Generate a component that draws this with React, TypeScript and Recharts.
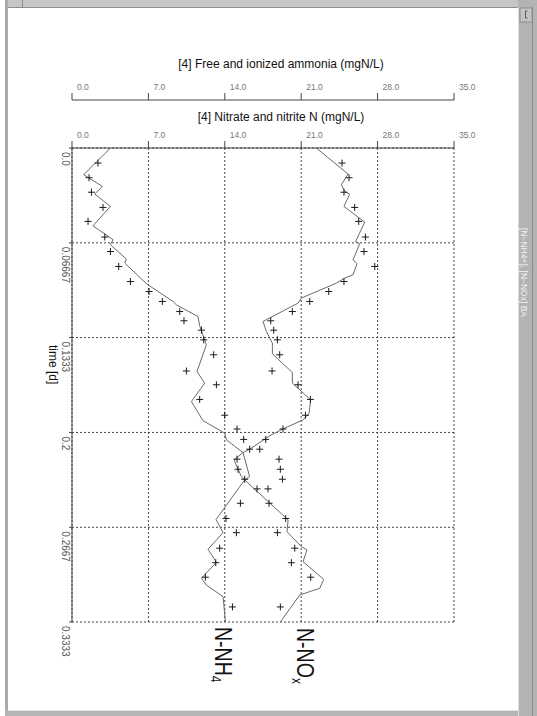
import React from 'react';
import { ScatterChart, Scatter, XAxis, YAxis, CartesianGrid } from 'recharts';

// ─── axes ────────────────────────────────────────────────────────────────────
const timeTicks = [0, 0.06667, 0.1333, 0.2, 0.2667, 0.3333];
const timeTickLabels = ['0.0', '0.06667', '0.1333', '0.2', '0.2667', '0.3333'];
const concTicks = [0, 7, 14, 21, 28, 35];

// ─── simulated curves ────────────────────────────────────────────────────────
const nh4ModelTime = [
  0, 0.0188, 0.027, 0.0324, 0.0411, 0.0547, 0.0645, 0.068, 0.0781, 0.0809, 0.0898, 0.0957,
  0.1079, 0.1103, 0.1185, 0.125, 0.1384, 0.1572, 0.1653, 0.1783, 0.1917, 0.2005, 0.2052,
  0.2142, 0.2311, 0.2334, 0.2612, 0.2705, 0.2821, 0.2913, 0.3025, 0.3073, 0.3155, 0.3333,
];
const nh4ModelValue = [
  3.52, 1.07, 2.79, 2.08, 3.52, 1.92, 3.76, 3.52, 4.98, 4.83, 6.05, 6.87, 9.25, 9.57, 11.54,
  11.7, 12.31, 11.45, 12.16, 10.94, 12.0, 13.99, 14.15, 15.67, 16.28, 15.82, 13.2, 13.84, 12.46,
  13.23, 11.86, 12.31, 13.84, 14.06,
];
const noxModelTime = [
  0, 0.0183, 0.0258, 0.0305, 0.0324, 0.0411, 0.0521, 0.0657, 0.0673, 0.0786, 0.0814, 0.0891,
  0.0915, 0.095, 0.1055, 0.1091, 0.122, 0.129, 0.1372, 0.1447, 0.1579, 0.1653, 0.1771, 0.1865,
  0.1912, 0.1975, 0.2024, 0.2118, 0.2142, 0.2193, 0.2311, 0.2334, 0.2615, 0.2698, 0.2803,
  0.2826, 0.2909, 0.3033, 0.3096, 0.3143, 0.3333,
];
const noxModelValue = [
  22.39, 25.29, 24.68, 24.99, 25.44, 24.92, 26.82, 25.99, 26.36, 25.75, 26.11, 25.75, 24.99,
  24.23, 21.02, 20.71, 17.5, 17.81, 18.36, 18.36, 20.19, 20.19, 21.87, 21.72, 21.17, 19.33,
  18.11, 16.28, 15.67, 14.84, 15.52, 15.82, 19.8, 19.7, 21.02, 21.53, 21.17, 23.06, 22.7, 20.86,
  19.09,
];

// ─── measurements ────────────────────────────────────────────────────────────
const sampleTime = [
  0.0106, 0.0209, 0.0311, 0.0418, 0.0516, 0.0626, 0.0728, 0.0833, 0.0939, 0.1009, 0.1079,
  0.115, 0.1215, 0.1281, 0.1349, 0.1454, 0.1568, 0.1665, 0.1768, 0.1879, 0.1976, 0.2049,
  0.2118, 0.2188, 0.2259, 0.2329, 0.2397, 0.2498, 0.2605, 0.2705, 0.2814, 0.2916, 0.3018, 0.3227,
];
const nh4Measured = [
  2.38, 1.56, 1.78, 2.84, 1.47, 3.0, 3.52, 4.28, 5.35, 7.06, 8.28, 9.87, 10.26, 11.86, 12.07,
  12.98, 10.48, 13.23, 11.7, 13.99, 15.12, 15.73, 16.28, 15.12, 15.21, 15.82, 16.95, 15.43,
  14.11, 15.06, 13.53, 13.17, 12.22, 14.7,
];
const noxMeasured = [
  24.74, 25.38, 24.92, 25.9, 26.27, 26.88, 26.75, 27.74, 24.92, 23.52, 21.78, 20.19, 18.21,
  18.48, 18.82, 19.03, 18.33, 20.71, 21.84, 21.39, 19.33, 17.75, 17.2, 18.97, 19.09, 19.28,
  17.96, 18.05, 19.58, 18.82, 20.41, 20.1, 21.87, 19.09,
];

const toPoints = (t: number[], v: number[]) => t.map((time, i) => ({ t: time, v: v[i] }));

const nh4Model = toPoints(nh4ModelTime, nh4ModelValue);
const noxModel = toPoints(noxModelTime, noxModelValue);
const nh4Points = toPoints(sampleTime, nh4Measured);
const noxPoints = toPoints(sampleTime, noxMeasured);

const AXIS = '#444';
const FONT = "'Liberation Sans', Arial, sans-serif";

const NoDot = () => <g />;

const PlusMark = (props: any) => {
  const { cx, cy } = props;
  if (cx == null || cy == null) return <g />;
  return (
    <path
      d={`M${cx - 3.5},${cy}h7M${cx},${cy - 3.5}v7`}
      stroke="#1a1a1a"
      strokeWidth={1}
      fill="none"
    />
  );
};

const ConcTick = (props: any) => {
  const { x, y, payload } = props;
  return (
    <text x={x + 5} y={y - 1} fontSize={8.5} fill="#777" fontFamily={FONT} textAnchor="start">
      {Number(payload.value).toFixed(1)}
    </text>
  );
};

const TimeTick = (props: any) => {
  const { x, y, payload } = props;
  const idx = timeTicks.indexOf(payload.value);
  const label = idx >= 0 ? timeTickLabels[idx] : String(payload.value);
  const bx = x - 5;
  const by = y + 4;
  return (
    <text
      x={bx}
      y={by}
      transform={`rotate(90, ${bx}, ${by})`}
      fontSize={10}
      fill="#555"
      fontFamily={FONT}
      textAnchor="start"
    >
      {label}
    </text>
  );
};

const W = 537;
const H = 716;

const App: React.FC = () => {
  return (
    <div style={{ position: 'absolute', left: 0, top: 0, width: W, height: H, background: '#fff' }}>
      <div style={{ position: 'absolute', left: 0, top: 0 }}>
        <ScatterChart width={W} height={H} margin={{ top: 50, right: 83, bottom: 94, left: 42 }}>
          <CartesianGrid
            xAxisId="nox"
            yAxisId="time"
            stroke={AXIS}
            strokeDasharray="2 2"
            horizontalValues={timeTicks}
            verticalValues={concTicks}
          />
          <XAxis
            xAxisId="nox"
            type="number"
            dataKey="v"
            orientation="top"
            domain={[0, 35]}
            ticks={concTicks}
            height={50}
            tickSize={7}
            tickMargin={2}
            axisLine={{ stroke: AXIS }}
            tickLine={{ stroke: AXIS }}
            tick={<ConcTick />}
            interval={0}
          />
          <XAxis
            xAxisId="nh4"
            type="number"
            dataKey="v"
            orientation="top"
            domain={[0, 35]}
            ticks={concTicks}
            height={48}
            tickSize={7}
            tickMargin={2}
            axisLine={{ stroke: AXIS }}
            tickLine={{ stroke: AXIS }}
            tick={<ConcTick />}
            interval={0}
          />
          <YAxis
            yAxisId="time"
            type="number"
            dataKey="t"
            domain={[0, 0.3333]}
            ticks={timeTicks}
            reversed
            width={30}
            tickSize={3}
            tickMargin={2}
            axisLine={{ stroke: AXIS }}
            tickLine={{ stroke: AXIS }}
            tick={<TimeTick />}
            interval={0}
          />
          <Scatter
            name="N-NH4 model"
            data={nh4Model}
            xAxisId="nh4"
            yAxisId="time"
            line={{ stroke: '#6a6a6a', strokeWidth: 1 }}
            shape={<NoDot />}
            isAnimationActive={false}
          />
          <Scatter
            name="N-NOx model"
            data={noxModel}
            xAxisId="nox"
            yAxisId="time"
            line={{ stroke: '#6a6a6a', strokeWidth: 1 }}
            shape={<NoDot />}
            isAnimationActive={false}
          />
          <Scatter
            name="N-NH4"
            data={nh4Points}
            xAxisId="nh4"
            yAxisId="time"
            shape={<PlusMark />}
            isAnimationActive={false}
          />
          <Scatter
            name="N-NOx"
            data={noxPoints}
            xAxisId="nox"
            yAxisId="time"
            shape={<PlusMark />}
            isAnimationActive={false}
          />
        </ScatterChart>
      </div>

      {/* titles, rotated labels and window frame */}
      <svg
        width={W}
        height={H}
        style={{ position: 'absolute', left: 0, top: 0, pointerEvents: 'none' }}
        fontFamily={FONT}
      >
        <text x={281} y={68} fontSize={12} textAnchor="middle" fill="#111">
          [4] Free and ionized ammonia (mgN/L)
        </text>
        <text x={281} y={121} fontSize={12} textAnchor="middle" fill="#111">
          [4] Nitrate and nitrite N (mgN/L)
        </text>

        <text transform="translate(49, 345) rotate(90)" fontSize={12} fill="#111">
          time [d]
        </text>

        <text transform="translate(215, 627) rotate(90) scale(0.85, 1)" fontSize={23} fill="#111">
          N-NH
          <tspan fontSize={14} dy={4}>
            4
          </tspan>
        </text>
        <text transform="translate(296.5, 628) rotate(90) scale(0.85, 1)" fontSize={23} fill="#111">
          N-NO
          <tspan fontSize={14} dy={4}>
            x
          </tspan>
        </text>

        {/* window chrome */}
        <rect x={5} y={0} width={532} height={7} fill="#c6c6c6" />
        <line x1={8} y1={7.5} x2={518} y2={7.5} stroke="#8e8e8e" />
        <line x1={22.5} y1={0} x2={22.5} y2={7} stroke="#8e8e8e" />
        <rect x={5} y={0} width={3} height={H} fill="#ababab" />
        <rect x={5} y={710} width={532} height={6} fill="#b5b5b5" />
        <line x1={8} y1={710.5} x2={518} y2={710.5} stroke="#e2e2e2" />
        <rect x={518} y={0} width={19} height={H} fill="#b3b3b3" />
        <line x1={518.5} y1={7} x2={518.5} y2={H} stroke="#dcdcdc" />
        <line x1={532.5} y1={7} x2={532.5} y2={H} stroke="#8c8c8c" />
        <rect x={520} y={8} width={12} height={14} fill="#c4c4c4" stroke="#8c8c8c" />
        <path d="M525.5,11v7h2M525.5,11h2" stroke="#555" fill="none" />
        <text transform="translate(521, 228) rotate(90)" fontSize={8.5} fill="#f2f2f2">
          [N−NH4+], [N−NOx] BA
        </text>
      </svg>
    </div>
  );
};

export default App;
